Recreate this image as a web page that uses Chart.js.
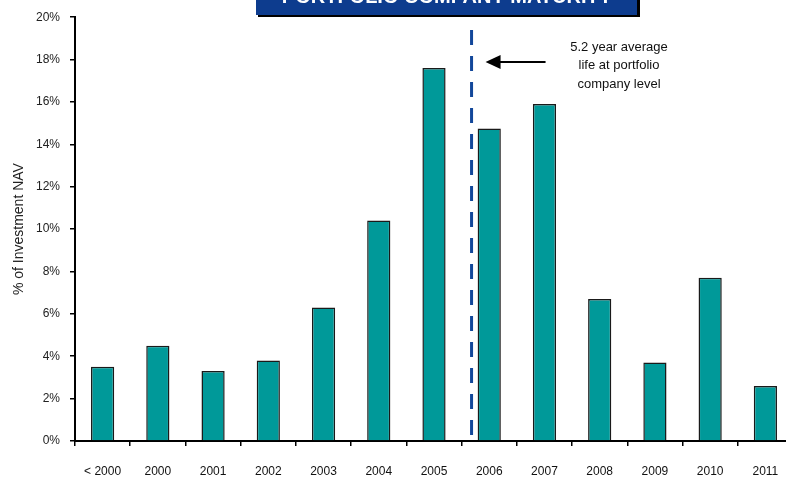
<!DOCTYPE html>
<html>
<head>
<meta charset="utf-8">
<script src="https://cdn.jsdelivr.net/npm/chart.js@4/dist/chart.umd.min.js"></script>
<style>
  html, body { margin: 0; padding: 0; background: #fff; overflow: hidden; }
  #wrap { width: 800px; height: 480px; position: relative; }
</style>
</head>
<body>
<div id="wrap"><canvas id="chart"></canvas></div>
<script>
const categories = ["< 2000", "2000", "2001", "2002", "2003", "2004", "2005", "2006", "2007", "2008", "2009", "2010", "2011"];
const navPct = [3.5, 4.5, 3.3, 3.8, 6.3, 10.4, 17.6, 14.75, 15.9, 6.7, 3.7, 7.7, 2.6];
const yTicks = [0, 2, 4, 6, 8, 10, 12, 14, 16, 18, 20];
const avgLifePos = 6.68; // position of the average-life marker on the category axis
const noteLines = ["5.2 year average", "life at portfolio", "company level"];
const chartTitle = "PORTFOLIO COMPANY MATURITY";

const FONT = "'Liberation Sans', Arial, sans-serif";

// dashed marker, arrow, note and the clipped title box
const extras = {
  id: "extras",
  afterDraw(chart) {
    const ctx = chart.ctx;
    const x = chart.scales.x.getPixelForValue(avgLifePos);
    const yb = chart.scales.y.getPixelForValue(0);

    ctx.save();
    ctx.strokeStyle = "#12479A";
    ctx.lineWidth = 3;
    ctx.setLineDash([15, 11]);
    ctx.beginPath();
    ctx.moveTo(x, 30);
    ctx.lineTo(x, yb);
    ctx.stroke();
    ctx.setLineDash([]);

    // arrow pointing at the line
    const ay = 62;
    const tip = x + 14;
    ctx.strokeStyle = "#000";
    ctx.lineWidth = 2;
    ctx.beginPath();
    ctx.moveTo(tip + 10, ay);
    ctx.lineTo(tip + 60, ay);
    ctx.stroke();
    ctx.fillStyle = "#000";
    ctx.beginPath();
    ctx.moveTo(tip, ay);
    ctx.lineTo(tip + 15, ay - 7);
    ctx.lineTo(tip + 15, ay + 7);
    ctx.closePath();
    ctx.fill();

    ctx.font = "13px " + FONT;
    ctx.fillStyle = "#111";
    ctx.textAlign = "center";
    ctx.textBaseline = "middle";
    noteLines.forEach((t, i) => ctx.fillText(t, 619, 47 + i * 18.5));

    // title box, mostly off the top of the page
    ctx.fillStyle = "#000";
    ctx.fillRect(258, 0, 382, 17);
    ctx.fillStyle = "#0D3C8E";
    ctx.fillRect(256, 0, 381, 15);
    ctx.fillStyle = "#fff";
    ctx.font = "bold 20px " + FONT;
    ctx.textBaseline = "alphabetic";
    ctx.fillText(chartTitle, 447, 3);
    ctx.restore();
  }
};

new Chart(document.getElementById("chart"), {
  type: "bar",
  data: {
    labels: categories,
    datasets: [{
      data: navPct,
      backgroundColor: "#009999",
      borderColor: "#1a1a1a",
      borderWidth: 1.5,
      categoryPercentage: 1,
      barPercentage: 0.42,
    }],
  },
  options: {
    responsive: true,
    maintainAspectRatio: false,
    animation: false,
    layout: { padding: { top: 14, right: 7, left: 0, bottom: 0 } },
    plugins: {
      legend: { display: false },
      tooltip: { enabled: false },
    },
    scales: {
      x: {
        grid: { drawOnChartArea: false, offset: true, tickLength: 5, color: "#000", lineWidth: 1.5 },
        border: { color: "#000", width: 2 },
        ticks: { color: "#111", font: { family: FONT, size: 12 }, padding: 18, maxRotation: 0, autoSkip: false },
        afterFit(scale) { scale.height = 39; },
      },
      y: {
        min: 0,
        max: 20,
        afterBuildTicks(scale) { scale.ticks = yTicks.map((v) => ({ value: v })); },
        grid: { drawOnChartArea: false, tickLength: 5, color: "#000", lineWidth: 1.5 },
        border: { color: "#000", width: 2 },
        ticks: { color: "#222", font: { family: FONT, size: 12 }, padding: 10, callback: (v) => v + "%" },
        title: { display: true, text: "% of Investment NAV", color: "#222", font: { family: FONT, size: 14 }, padding: { top: 11, bottom: 0 } },
        afterFit(scale) { scale.width = 75; },
      },
    },
  },
  plugins: [extras],
});
</script>
</body>
</html>
